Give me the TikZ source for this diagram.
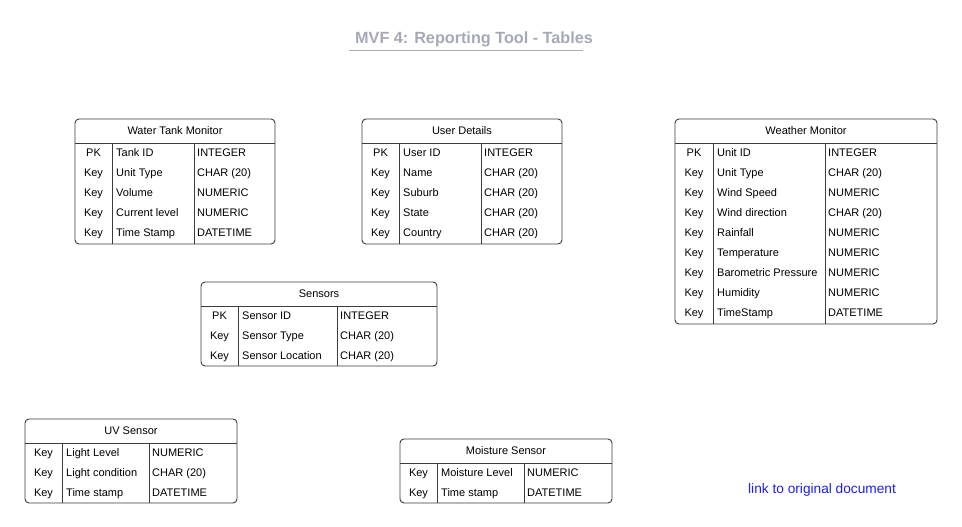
\documentclass[tikz,border=0pt]{standalone}
\usepackage{fontspec}
\setmainfont{Liberation Sans}
\definecolor{titlegray}{RGB}{166,170,184}
\definecolor{rulegray}{RGB}{170,172,180}
\definecolor{linegray}{RGB}{60,60,60}
\definecolor{linkblue}{RGB}{30,30,240}
\tikzset{
  tbl/.style={draw=linegray, line width=0.9pt},
  tblbox/.style={tbl, rounded corners=4pt},
  hdr/.style={inner sep=0pt, anchor=base, font=\fontsize{11}{13}\selectfont},
  cell/.style={inner sep=0pt, font=\fontsize{11}{13}\selectfont},
}
\newcommand\erd[9]{%
  \draw[tblbox] (#1,#2) rectangle (#5,#6);
  \draw[tbl] (#1,#2+24) -- (#5,#2+24);
  \draw[tbl] (#3,#2+24) -- (#3,#6);
  \draw[tbl] (#4,#2+24) -- (#4,#6);
  \node[hdr] (#9-title) at ({(#1+#5)/2},#2+15.5) {#7};
  \foreach \k/\n/\t [count=\i] in {#8} {
    \node[cell, anchor=base] (#9-k\i) at ({(#1+#3)/2},{#2+24+20*\i-6.5}) {\k};
    \node[cell, anchor=base west] (#9-n\i) at ({#3+4},{#2+24+20*\i-6.5}) {\n};
    \node[cell, anchor=base west] (#9-t\i) at ({#4+3},{#2+24+20*\i-6.5}) {\t};
  }%
}
\begin{document}
\begin{tikzpicture}[x=1pt,y=-1pt]
\useasboundingbox[fill=white] (0,0) rectangle (962,527);
\node[inner sep=0pt, anchor=base, text=titlegray, font=\fontsize{16.2}{19}\selectfont\bfseries] (title) at (474,44) {MVF 4: Reporting Tool - Tables};
\coordinate (ul1) at (349,50.5);
\coordinate (ul2) at (583,50.5);
\draw[rulegray, line width=1.3pt] (ul1) -- (ul2);

\erd{75}{119}{112}{194}{275}{244}{Water Tank Monitor}{PK/Tank ID/INTEGER, Key/Unit Type/CHAR (20), Key/Volume/NUMERIC, Key/Current level/NUMERIC, Key/Time Stamp/DATETIME}{wtm}

\erd{362}{119}{399}{481}{562}{244}{User Details}{PK/User ID/INTEGER, Key/Name/CHAR (20), Key/Suburb/CHAR (20), Key/State/CHAR (20), Key/Country/CHAR (20)}{ud}

\erd{675}{119}{713}{825}{937}{324}{Weather Monitor}{PK/Unit ID/INTEGER, Key/Unit Type/CHAR (20), Key/Wind Speed/NUMERIC, Key/Wind direction/CHAR (20), Key/Rainfall/NUMERIC, Key/Temperature/NUMERIC, Key/Barometric Pressure/NUMERIC, Key/Humidity/NUMERIC, Key/TimeStamp/DATETIME}{wm}

\erd{201}{282}{238}{337}{437}{366}{Sensors}{PK/Sensor ID/INTEGER, Key/Sensor Type/CHAR (20), Key/Sensor Location/CHAR (20)}{sen}

\erd{25}{419}{62}{149}{237}{503}{UV Sensor}{Key/Light Level/NUMERIC, Key/Light condition/CHAR (20), Key/Time stamp/DATETIME}{uv}

\erd{400}{439}{437}{524}{612}{503}{Moisture Sensor}{Key/Moisture Level/NUMERIC, Key/Time stamp/DATETIME}{ms}

\node[inner sep=0pt, anchor=base west, text=linkblue, font=\fontsize{13.7}{16}\selectfont] (link) at (748,493) {link to original document};
\end{tikzpicture}
\end{document}
